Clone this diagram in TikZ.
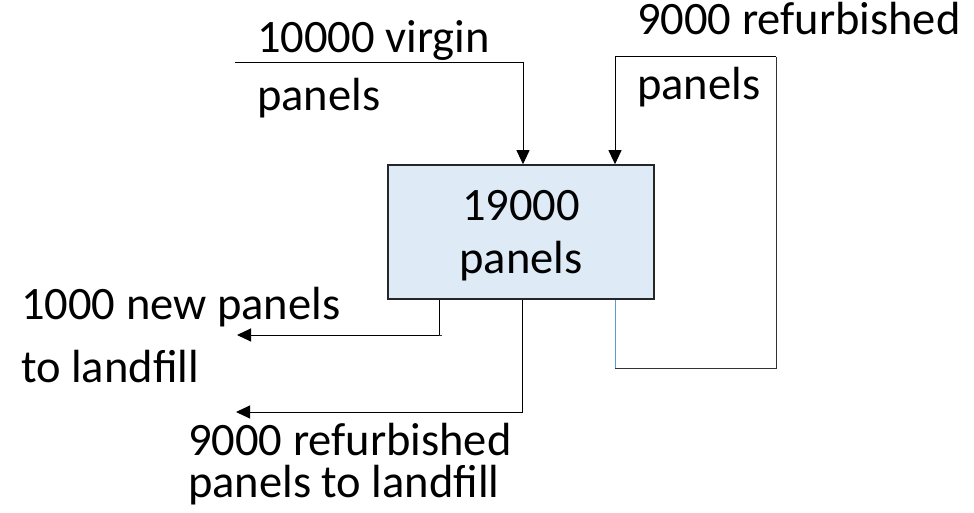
\documentclass[tikz,border=0pt]{standalone}
\usepackage{fontspec}
\setmainfont{Carlito}
\usetikzlibrary{arrows.meta}
\definecolor{boxblue}{HTML}{DEEBF7}
\definecolor{boxline}{HTML}{262626}
\definecolor{linkblue}{HTML}{5B9BD5}
\begin{document}
\begin{tikzpicture}[x=1pt,y=-1pt,
  lbl/.style={anchor=base west,inner sep=0pt,font=\fontsize{46.5}{55}\selectfont},
  clbl/.style={anchor=base,inner sep=0pt,font=\fontsize{46.5}{55}\selectfont},
  flow/.style={draw=black,line width=1pt,-{Triangle[length=14pt,width=13pt]}},
  plainline/.style={draw=black!80,line width=1pt},
  bluelink/.style={draw=linkblue,line width=1pt},
  stockbox/.style={draw=boxline,line width=1.6pt,fill=boxblue,minimum width=266pt,minimum height=134pt,inner sep=0pt}]
\useasboundingbox (0,0) rectangle (974,513);

% central box
\node[stockbox] (box) at (521,232) {};
\node[clbl] (boxt1) at (521,220) {19000};
\node[clbl] (boxt2) at (521,273) {panels};

% labels
\node[lbl] (vir1) at (257,53) {10000 virgin};
\node[lbl] (vir2) at (257,111) {panels};
\node[lbl] (ref1) at (637,35) {9000 refurbished};
\node[lbl] (ref2) at (637,100) {panels};
\node[lbl] (new1) at (21,319) {1000 new panels};
\node[lbl] (new2) at (21,382) {to landfill};
\node[lbl] (rl1) at (188,455) {9000 refurbished};
\node[lbl] (rl2) at (188,497) {panels to landfill};

% free ends
\coordinate (vin) at (235,63);
\coordinate (newend) at (237,335);
\coordinate (rlend) at (236,412);
\coordinate (loopBL) at (615,368);
\coordinate (loopBR) at (776,368);
\coordinate (loopTR) at (776,57);

% virgin inflow
\draw[flow] (vin) -| ([xshift=2pt]box.north);

% refurbished loop
\draw[bluelink] ([xshift=94pt]box.south) -- (loopBL);
\draw[plainline] (loopBL) -- (loopBR) -- (loopTR);
\draw[flow] (loopTR) -| ([xshift=94pt]box.north);

% outflows
\draw[flow] ([xshift=-82pt]box.south) |- (newend);
\draw[plainline] ([xshift=-82pt]box.south |- newend) -- ++(3,0);
\draw[flow] ([xshift=1pt]box.south) |- (rlend);
\end{tikzpicture}
\end{document}
